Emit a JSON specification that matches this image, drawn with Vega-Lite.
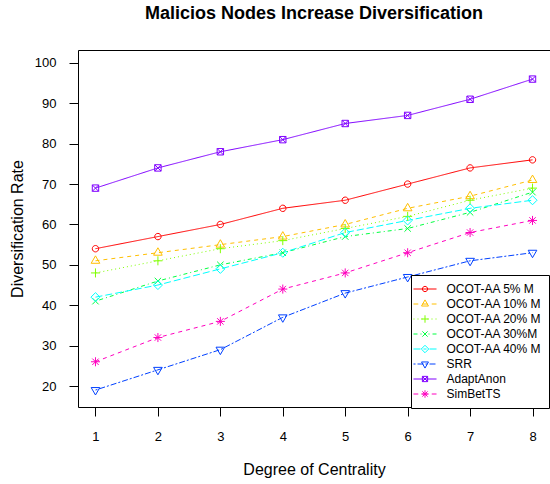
{
  "$schema": "https://vega.github.io/schema/vega-lite/v6.json",
  "width": 472,
  "height": 357,
  "autosize": "none",
  "padding": {"left": 78, "top": 50, "right": 0, "bottom": 77},
  "background": "white",
  "title": {"text": "Malicios Nodes Increase Diversification", "font": "Liberation Sans", "fontSize": 18, "fontWeight": "bold", "color": "black", "anchor": "middle", "baseline": "alphabetic", "offset": 13},
  "data": {"values": [
    {"series": "OCOT-AA 5% M", "x": 1, "y": 54}, {"series": "OCOT-AA 5% M", "x": 2, "y": 57}, {"series": "OCOT-AA 5% M", "x": 3, "y": 60}, {"series": "OCOT-AA 5% M", "x": 4, "y": 64},
    {"series": "OCOT-AA 5% M", "x": 5, "y": 66}, {"series": "OCOT-AA 5% M", "x": 6, "y": 70}, {"series": "OCOT-AA 5% M", "x": 7, "y": 74}, {"series": "OCOT-AA 5% M", "x": 8, "y": 76},
    {"series": "OCOT-AA 10% M", "x": 1, "y": 51}, {"series": "OCOT-AA 10% M", "x": 2, "y": 53}, {"series": "OCOT-AA 10% M", "x": 3, "y": 55}, {"series": "OCOT-AA 10% M", "x": 4, "y": 57},
    {"series": "OCOT-AA 10% M", "x": 5, "y": 60}, {"series": "OCOT-AA 10% M", "x": 6, "y": 64}, {"series": "OCOT-AA 10% M", "x": 7, "y": 67}, {"series": "OCOT-AA 10% M", "x": 8, "y": 71},
    {"series": "OCOT-AA 20% M", "x": 1, "y": 48}, {"series": "OCOT-AA 20% M", "x": 2, "y": 51}, {"series": "OCOT-AA 20% M", "x": 3, "y": 54}, {"series": "OCOT-AA 20% M", "x": 4, "y": 56},
    {"series": "OCOT-AA 20% M", "x": 5, "y": 59}, {"series": "OCOT-AA 20% M", "x": 6, "y": 62}, {"series": "OCOT-AA 20% M", "x": 7, "y": 66}, {"series": "OCOT-AA 20% M", "x": 8, "y": 69},
    {"series": "OCOT-AA 30%M", "x": 1, "y": 41}, {"series": "OCOT-AA 30%M", "x": 2, "y": 46}, {"series": "OCOT-AA 30%M", "x": 3, "y": 50}, {"series": "OCOT-AA 30%M", "x": 4, "y": 53},
    {"series": "OCOT-AA 30%M", "x": 5, "y": 57}, {"series": "OCOT-AA 30%M", "x": 6, "y": 59}, {"series": "OCOT-AA 30%M", "x": 7, "y": 63}, {"series": "OCOT-AA 30%M", "x": 8, "y": 68},
    {"series": "OCOT-AA 40% M", "x": 1, "y": 42}, {"series": "OCOT-AA 40% M", "x": 2, "y": 45}, {"series": "OCOT-AA 40% M", "x": 3, "y": 49}, {"series": "OCOT-AA 40% M", "x": 4, "y": 53},
    {"series": "OCOT-AA 40% M", "x": 5, "y": 58}, {"series": "OCOT-AA 40% M", "x": 6, "y": 61}, {"series": "OCOT-AA 40% M", "x": 7, "y": 64}, {"series": "OCOT-AA 40% M", "x": 8, "y": 66},
    {"series": "SRR", "x": 1, "y": 19}, {"series": "SRR", "x": 2, "y": 24}, {"series": "SRR", "x": 3, "y": 29}, {"series": "SRR", "x": 4, "y": 37},
    {"series": "SRR", "x": 5, "y": 43}, {"series": "SRR", "x": 6, "y": 47}, {"series": "SRR", "x": 7, "y": 51}, {"series": "SRR", "x": 8, "y": 53},
    {"series": "AdaptAnon", "x": 1, "y": 69}, {"series": "AdaptAnon", "x": 2, "y": 74}, {"series": "AdaptAnon", "x": 3, "y": 78}, {"series": "AdaptAnon", "x": 4, "y": 81},
    {"series": "AdaptAnon", "x": 5, "y": 85}, {"series": "AdaptAnon", "x": 6, "y": 87}, {"series": "AdaptAnon", "x": 7, "y": 91}, {"series": "AdaptAnon", "x": 8, "y": 96},
    {"series": "SimBetTS", "x": 1, "y": 26}, {"series": "SimBetTS", "x": 2, "y": 32}, {"series": "SimBetTS", "x": 3, "y": 36}, {"series": "SimBetTS", "x": 4, "y": 44},
    {"series": "SimBetTS", "x": 5, "y": 48}, {"series": "SimBetTS", "x": 6, "y": 53}, {"series": "SimBetTS", "x": 7, "y": 58}, {"series": "SimBetTS", "x": 8, "y": 61}
  ]},
  "encoding": {
    "x": {"field": "x", "type": "quantitative", "scale": {"domain": [0.72, 8.28], "nice": false, "zero": false},
      "axis": {"values": [1, 2, 3, 4, 5, 6, 7, 8], "format": "d", "title": "Degree of Centrality", "labelPadding": 14, "titlePadding": 18}},
    "y": {"field": "y", "type": "quantitative", "scale": {"domain": [14.8, 103.2], "nice": false, "zero": false},
      "axis": {"values": [20, 30, 40, 50, 60, 70, 80, 90, 100], "format": "d", "title": "Diversification Rate", "labelPadding": 13, "titlePadding": 9}}
  },
  "layer": [
    {
      "mark": {"type": "line", "strokeWidth": 1, "opacity": 1},
      "encoding": {
        "color": {"field": "series", "type": "nominal", "legend": null,
          "scale": {"domain": ["OCOT-AA 5% M", "OCOT-AA 10% M", "OCOT-AA 20% M", "OCOT-AA 30%M", "OCOT-AA 40% M", "SRR", "AdaptAnon", "SimBetTS"],
            "range": ["#FF0000", "#FFBF00", "#80FF00", "#00FF40", "#00FFFF", "#0040FF", "#8000FF", "#FF00BF"]}},
        "strokeDash": {"field": "series", "type": "nominal", "legend": null,
          "scale": {"domain": ["OCOT-AA 5% M", "OCOT-AA 10% M", "OCOT-AA 20% M", "OCOT-AA 30%M", "OCOT-AA 40% M", "SRR", "AdaptAnon", "SimBetTS"],
            "range": [[1, 0], [4, 4], [1, 3], [1, 3, 4, 3], [7, 3], [2, 2, 6, 2], [1, 0], [4, 4]]}}
      }
    },
    {
      "mark": {"type": "point", "filled": false, "strokeWidth": 1, "size": 64, "opacity": 1},
      "encoding": {
        "color": {"field": "series", "type": "nominal", "legend": null,
          "scale": {"domain": ["OCOT-AA 5% M", "OCOT-AA 10% M", "OCOT-AA 20% M", "OCOT-AA 30%M", "OCOT-AA 40% M", "SRR", "AdaptAnon", "SimBetTS"],
            "range": ["#FF0000", "#FFBF00", "#80FF00", "#00FF40", "#00FFFF", "#0040FF", "#8000FF", "#FF00BF"]}},
        "shape": {"field": "series", "type": "nominal", "legend": null,
          "scale": {"domain": ["OCOT-AA 5% M", "OCOT-AA 10% M", "OCOT-AA 20% M", "OCOT-AA 30%M", "OCOT-AA 40% M", "SRR", "AdaptAnon", "SimBetTS"],
            "range": [
              "M-0.8,0A0.8,0.8 0 1,0 0.8,0A0.8,0.8 0 1,0 -0.8,0Z",
              "M0,-1.24L1.08,0.62L-1.08,0.62Z",
              "M-1.13,0H1.13M0,-1.13V1.13",
              "M-0.8,-0.8L0.8,0.8M-0.8,0.8L0.8,-0.8",
              "M0,-1.13L1.13,0L0,1.13L-1.13,0Z",
              "M0,1.24L1.08,-0.62L-1.08,-0.62Z",
              "M-0.8,-0.8H0.8V0.8H-0.8ZM-0.8,-0.8L0.8,0.8M-0.8,0.8L0.8,-0.8",
              "M-1.13,0H1.13M0,-1.13V1.13M-0.8,-0.8L0.8,0.8M-0.8,0.8L0.8,-0.8"
            ]}}
      }
    },
    {
      "transform": [{"filter": "datum.x > 100"}],
      "mark": {"type": "point", "filled": false, "strokeWidth": 1, "opacity": 1},
      "encoding": {
        "color": {"field": "series", "type": "nominal",
          "scale": {"domain": ["OCOT-AA 5% M", "OCOT-AA 10% M", "OCOT-AA 20% M", "OCOT-AA 30%M", "OCOT-AA 40% M", "SRR", "AdaptAnon", "SimBetTS"],
            "range": ["#FF0000", "#FFBF00", "#80FF00", "#00FF40", "#00FFFF", "#0040FF", "#8000FF", "#FF00BF"]},
          "legend": {
            "title": null, "orient": "none", "legendX": 333, "legendY": 225,
            "strokeColor": "black", "fillColor": "white", "padding": 7.5, "cornerRadius": 0,
            "symbolSize": 144, "symbolStrokeWidth": 1, "symbolFillColor": "transparent",
            "labelFont": "Liberation Sans", "labelFontSize": 12, "labelColor": "black", "labelOffset": 15,
            "rowPadding": 2, "labelLimit": 200
          }},
        "shape": {"field": "series", "type": "nominal",
          "scale": {"domain": ["OCOT-AA 5% M", "OCOT-AA 10% M", "OCOT-AA 20% M", "OCOT-AA 30%M", "OCOT-AA 40% M", "SRR", "AdaptAnon", "SimBetTS"],
            "range": [
              "M-1.92,0H1.92M-0.44,0A0.44,0.44 0 1,0 0.44,0A0.44,0.44 0 1,0 -0.44,0Z",
              "M-1.92,0H-1.12M-0.45,0H0.45M1.12,0H1.92M0,-0.68L0.58,0.34L-0.58,0.34Z",
              "M-1.92,0H-1.75M-1.25,0H-1.08M-0.58,0H-0.42M0.42,0H0.58M1.08,0H1.25M1.75,0H1.92M-0.62,0H0.62M0,-0.62V0.62",
              "M-1.92,0H-1.25M-0.75,0H-0.58M0.58,0H0.75M1.25,0H1.92M-0.44,-0.44L0.44,0.44M-0.44,0.44L0.44,-0.44",
              "M-1.92,0H-0.75M-0.25,0H0.25M0.75,0H1.92M0,-0.62L0.62,0L0,0.62L-0.62,0Z",
              "M-1.92,0H-1.58M-1.25,0H-0.25M0.08,0H0.42M0.75,0H1.75M0,0.68L0.58,-0.34L-0.58,-0.34Z",
              "M-1.92,0H1.92M-0.44,-0.44H0.44V0.44H-0.44ZM-0.44,-0.44L0.44,0.44M-0.44,0.44L0.44,-0.44",
              "M-1.92,0H-1.12M-0.45,0H0.45M1.12,0H1.92M-0.62,0H0.62M0,-0.62V0.62M-0.44,-0.44L0.44,0.44M-0.44,0.44L0.44,-0.44"
            ]},
          "legend": {
            "title": null, "orient": "none", "legendX": 333, "legendY": 225,
            "strokeColor": "black", "fillColor": "white", "padding": 7.5, "cornerRadius": 0,
            "symbolSize": 144, "symbolStrokeWidth": 1, "symbolFillColor": "transparent",
            "labelFont": "Liberation Sans", "labelFontSize": 12, "labelColor": "black", "labelOffset": 15,
            "rowPadding": 2, "labelLimit": 200
          }}
      }
    }
  ],
  "resolve": {"scale": {"shape": "independent", "color": "independent"}},
  "config": {
    "font": "Liberation Sans",
    "view": {"stroke": "black", "strokeWidth": 1},
    "axis": {"domain": false, "grid": false, "ticks": true, "tickColor": "black", "tickSize": 9, "labelColor": "black", "titleColor": "black",
      "labelFont": "Liberation Sans", "titleFont": "Liberation Sans", "labelFontSize": 13, "titleFontSize": 16, "titleFontWeight": "normal"}
  }
}
